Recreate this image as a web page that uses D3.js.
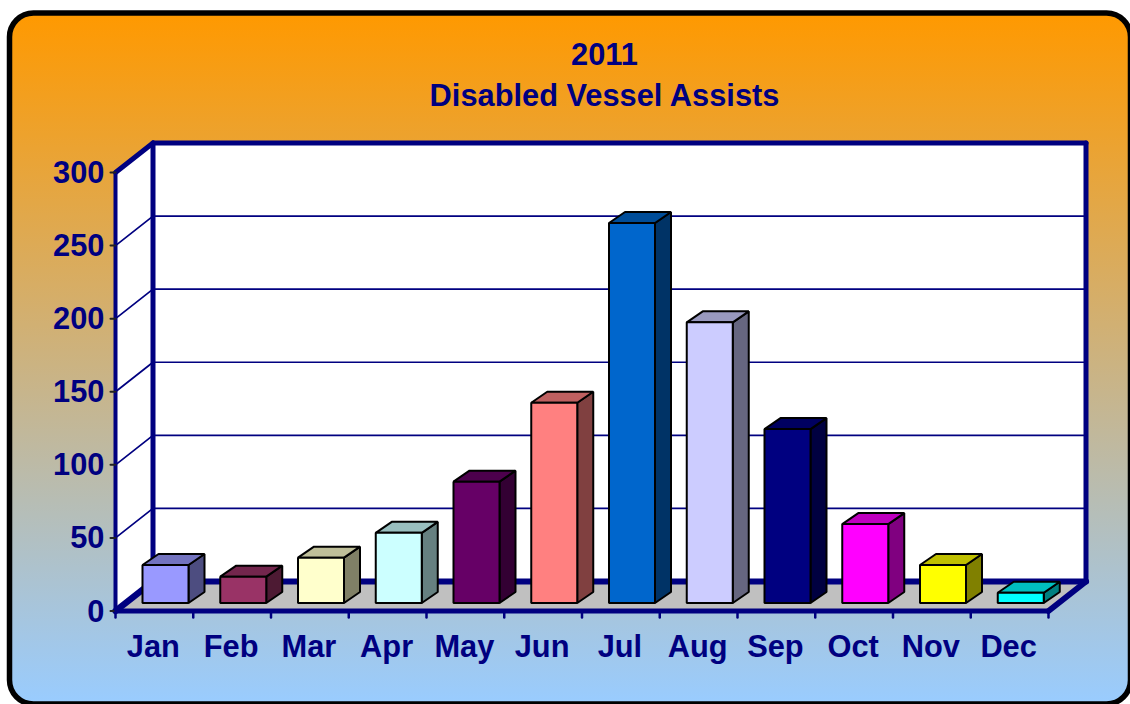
<!DOCTYPE html>
<html><head><meta charset="utf-8">
<script src="https://cdn.jsdelivr.net/npm/d3@7/dist/d3.min.js"></script>
<style>html,body{margin:0;padding:0;background:#fff;overflow:hidden}svg{display:block}text{font-family:"Liberation Sans",Arial,sans-serif;font-weight:bold;fill:#000080}</style>
</head><body><svg id="c" width="1130" height="704"></svg>
<script>
const months = ["Jan","Feb","Mar","Apr","May","Jun","Jul","Aug","Sep","Oct","Nov","Dec"];
const assists = [26,18,31,48,83,137,260,192,119,54,26,7];
const faceColors = ["#9999FF","#993366","#FFFFCC","#CCFFFF","#660066","#FF8080","#0066CC","#CCCCFF","#000080","#FF00FF","#FFFF00","#00FFFF"];
const titleLines = ["2011","Disabled Vessel Assists"];
const yTicks = [0,50,100,150,200,250,300];

const svg = d3.select("#c");
const navy = "#000080";
const defs = svg.append("defs");
const g = defs.append("linearGradient").attr("id","bg").attr("x1",0).attr("y1",0).attr("x2",0).attr("y2",1);
g.append("stop").attr("offset","0%").attr("stop-color","#FF9900");
g.append("stop").attr("offset","100%").attr("stop-color","#99CCFF");

svg.append("rect").attr("x",9.5).attr("y",13).attr("width",1121).attr("height",691).attr("rx",24)
  .attr("fill","url(#bg)").attr("stroke","#000").attr("stroke-width",5.5);

svg.selectAll("text.title").data(titleLines).join("text").attr("class","title")
  .attr("x",604.5).attr("y",(d,i)=>65+i*41).attr("text-anchor","middle").attr("font-size",30.8).text(d=>d);

const x0=115.5,x1=1048.5,yB=611,yT=172.5,dx=37.5,dy=-29.5;
const x = d3.scaleBand().domain(months).range([x0,x1]);
const y = d3.scaleLinear().domain([0,300]).range([yB,yT]);
const line=(a,b,c,d,w,col=navy)=>svg.append("line").attr("x1",a).attr("y1",b).attr("x2",c).attr("y2",d).attr("stroke",col).attr("stroke-width",w).attr("stroke-linecap","round");
const poly=(pts,fill,stroke,w)=>svg.append("polygon").attr("points",pts.map(p=>p.join(",")).join(" ")).attr("fill",fill).attr("stroke",stroke||"none").attr("stroke-width",w||0).attr("stroke-linejoin","bevel");

// walls and floor
poly([[x0+dx,yT+dy],[x1+dx,yT+dy],[x1+dx,yB+dy],[x0+dx,yB+dy]],"#fff");
poly([[x0,yT],[x0+dx,yT+dy],[x0+dx,yB+dy],[x0,yB]],"#fff");
poly([[x0,yB],[x1,yB],[x1+dx,yB+dy],[x0+dx,yB+dy]],"#C0C0C0");

// gridlines
yTicks.slice(1,-1).forEach(t=>{
  line(x0,y(t),x0+dx,y(t)+dy,1.7);
  line(x0+dx,y(t)+dy,x1+dx,y(t)+dy,1.7);
});

// frame
const W=5;
line(x0+dx,yT+dy,x1+dx,yT+dy,W);
line(x1+dx,yT+dy,x1+dx,yB+dy,W);
line(x0+dx,yT+dy,x0+dx,yB+dy,W);
line(x0+dx,yB+dy,x1+dx,yB+dy,W+1);
line(x0,yT,x0+dx,yT+dy,5);
line(x0,yB,x0+dx,yB+dy,6.5);
line(x1,yB,x1+dx,yB+dy,6);
line(x0,yB,x1,yB,5);
line(x0,yT,x0,yB,4);

// axes ticks & labels
yTicks.forEach(t=>{
  line(x0-5,y(t),x0,y(t),2,"#222");
  svg.append("text").attr("x",104.5).attr("y",y(t)+10.5).attr("text-anchor","end").attr("font-size",30.8).text(t);
});
months.forEach((m,i)=>{
  line(x(m),yB,x(m),yB+6.5,2.5);
  svg.append("text").attr("x",x(m)+x.bandwidth()/2-1).attr("y",657).attr("text-anchor","middle").attr("font-size",30.8).text(m);
});
line(x1,yB,x1,yB+6.5,2.5);

// bars
const bw=46,bdx=16,bdy=-11,zeroFront=603,pad=27;
const shade=(c,k)=>{const r=d3.rgb(c);return d3.rgb(r.r*k,r.g*k,r.b*k).formatHex();};
const scale=h=>yB-y(h);
months.forEach((m,i)=>{
  const l=x(m)+pad, r=l+bw, t=zeroFront-scale(assists[i]), b=zeroFront, c=faceColors[i];
  poly([[r,t],[r+bdx,t+bdy],[r+bdx,b+bdy],[r,b]],shade(c,0.5),"#000",2);
  poly([[l,t],[l+bdx,t+bdy],[r+bdx,t+bdy],[r,t]],shade(c,0.75),"#000",2);
  poly([[l,t],[r,t],[r,b],[l,b]],c,"#000",2);
});
</script></body></html>
